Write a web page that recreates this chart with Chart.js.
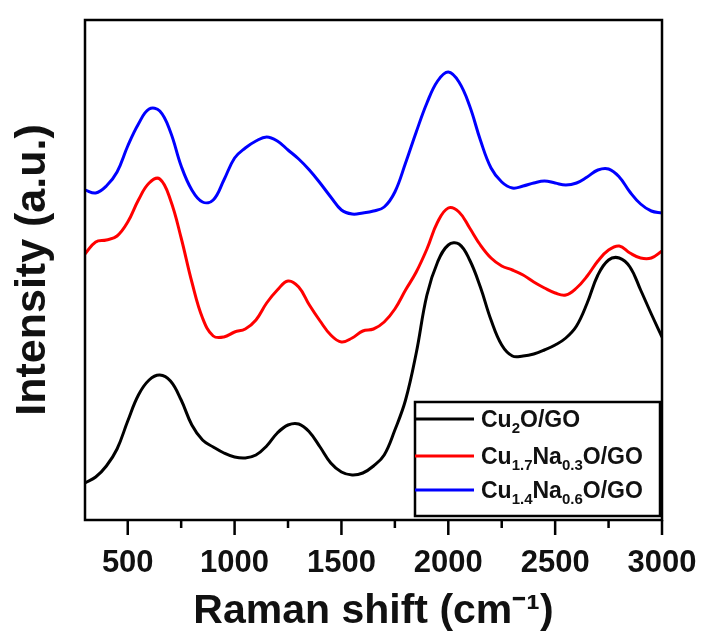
<!DOCTYPE html>
<html>
<head>
<meta charset="utf-8">
<script src="https://cdn.jsdelivr.net/npm/chart.js@4.4.1/dist/chart.umd.min.js"></script>
<style>
  html, body { margin: 0; padding: 0; background: #fff; }
  #wrap { width: 702px; height: 634px; }
</style>
</head>
<body>
<div id="wrap"><canvas id="raman"></canvas></div>
<script>
// Raman shift (cm-1), sampled every 50 from 300 to 3000
const ramanShift = [];
for (let s = 300; s <= 3000; s += 50) ramanShift.push(s);

const seriesNames = ['Cu_{2}O/GO', 'Cu_{1.7}Na_{0.3}O/GO', 'Cu_{1.4}Na_{0.6}O/GO'];
const seriesColors = ['#000000', '#ff0000', '#0000ff'];

const cu2o = [7.4, 8.6, 10.8, 14.2, 19.8, 25, 28, 29, 27.8, 24, 19, 16, 14.6, 13.4, 12.6, 12.4, 13, 14.8, 17.4, 19,
  19.2, 17.6, 14.6, 11.4, 9.6, 9, 9.4, 10.8, 13, 18, 24, 33.4, 45, 51.6, 55, 55.2, 52, 46.6, 40, 35,
  32.8, 32.8, 33.2, 34, 35, 36.4, 38.8, 43.4, 49, 52, 52.4, 50.6, 46, 41.2, 36.6];

const cuNa03 = [53.2, 55.6, 56, 56.8, 59.6, 64, 67.4, 68.2, 64, 56.4, 47.6, 40.4, 36.8, 36.6, 37.6, 38.2, 40, 43.4, 46, 47.8,
  46.6, 43, 39.8, 37, 35.6, 36.4, 37.8, 38.2, 39.6, 42.2, 46, 49.6, 54.2, 59.6, 62.4, 61.6, 58.4, 55, 52.4, 50.8,
  50, 49, 47.6, 46.4, 45.4, 45, 46.4, 48.8, 51.8, 54, 54.8, 53.4, 52.4, 52.4, 53.8];

const cuNa06 = [66, 65.4, 66.8, 69.6, 74.8, 79.2, 82.2, 81.8, 77.6, 70.8, 66, 63.6, 64, 68, 72.4, 74.4, 75.8, 76.6, 75.8, 74,
  72.2, 70, 67.4, 64.6, 62, 61.2, 61.4, 61.8, 62.6, 65.6, 71.4, 77.6, 83.4, 87.8, 89.6, 87.6, 82.8, 76, 70.4, 67.6,
  66.4, 66.8, 67.4, 67.8, 67.4, 67, 67.4, 68.6, 70, 70.2, 68.6, 65.6, 63.2, 61.8, 61.4];

const xMajorTicks = [500, 1000, 1500, 2000, 2500, 3000];
const xMinorTicks = [750, 1250, 1750, 2250, 2750];

const FONT = "'Liberation Sans', Arial, sans-serif";

function toPoints(ys) {
    return ys.map((y, i) => ({ x: ramanShift[i], y: y }));
}

// split "Cu_{2}O/GO" into normal / subscript parts
function parseLabel(str) {
    const parts = [];
    const re = /_\{([^}]*)\}/g;
    let last = 0, m;
    while ((m = re.exec(str)) !== null) {
        if (m.index > last) parts.push({ t: str.slice(last, m.index), sub: false });
        parts.push({ t: m[1], sub: true });
        last = re.lastIndex;
    }
    if (last < str.length) parts.push({ t: str.slice(last), sub: false });
    return parts;
}

// frame + tick marks
const framePlugin = {
    id: 'frame',
    afterDraw(chart) {
        const { ctx, chartArea: a } = chart;
        const xs = chart.scales.x;
        ctx.save();
        ctx.strokeStyle = '#000';
        ctx.lineWidth = 2.5;
        ctx.strokeRect(a.left, a.top, a.right - a.left, a.bottom - a.top);
        ctx.beginPath();
        xMajorTicks.forEach(v => {
            const px = xs.getPixelForValue(v);
            ctx.moveTo(px, a.bottom);
            ctx.lineTo(px, a.bottom + 15);
        });
        xMinorTicks.forEach(v => {
            const px = xs.getPixelForValue(v);
            ctx.moveTo(px, a.bottom);
            ctx.lineTo(px, a.bottom + 8);
        });
        ctx.stroke();
        ctx.restore();
    }
};

// legend with subscripts, box in lower right of plot
const subLegendPlugin = {
    id: 'subLegend',
    afterDraw(chart) {
        const { ctx, chartArea: a } = chart;
        const boxL = a.right - 247, boxR = a.right - 2;
        const boxT = a.bottom - 118, boxB = a.bottom - 4;
        const rowY = [boxT + 17, boxT + 54, boxT + 88];
        ctx.save();
        ctx.fillStyle = '#fff';
        ctx.fillRect(boxL, boxT, boxR - boxL, boxB - boxT);
        ctx.strokeStyle = '#000';
        ctx.lineWidth = 2.5;
        ctx.strokeRect(boxL, boxT, boxR - boxL, boxB - boxT);
        chart.data.datasets.forEach((ds, i) => {
            const y = rowY[i];
            ctx.strokeStyle = ds.borderColor;
            ctx.lineWidth = 3;
            ctx.beginPath();
            ctx.moveTo(boxL, y);
            ctx.lineTo(boxL + 59, y);
            ctx.stroke();
            let x = boxL + 66;
            ctx.fillStyle = '#111';
            ctx.textBaseline = 'alphabetic';
            parseLabel(ds.label).forEach(p => {
                if (p.sub) {
                    ctx.font = 'bold 15px ' + FONT;
                    ctx.fillText(p.t, x, y + 14);
                } else {
                    ctx.font = 'bold 23px ' + FONT;
                    ctx.fillText(p.t, x, y + 8);
                }
                x += ctx.measureText(p.t).width;
            });
        });
        ctx.restore();
    }
};

new Chart(document.getElementById('raman'), {
    type: 'line',
    data: {
        datasets: [
            { label: seriesNames[0], data: toPoints(cu2o), borderColor: seriesColors[0] },
            { label: seriesNames[1], data: toPoints(cuNa03), borderColor: seriesColors[1] },
            { label: seriesNames[2], data: toPoints(cuNa06), borderColor: seriesColors[2] }
        ]
    },
    options: {
        responsive: true,
        maintainAspectRatio: false,
        animation: false,
        layout: { padding: { top: 20, right: 40, left: 0, bottom: 0 } },
        elements: {
            line: { borderWidth: 3, tension: 0.4, fill: false },
            point: { radius: 0 }
        },
        plugins: {
            legend: { display: false },
            tooltip: { enabled: false }
        },
        scales: {
            x: {
                type: 'linear',
                min: 300,
                max: 3000,
                afterBuildTicks: s => { s.ticks = xMajorTicks.map(v => ({ value: v })); },
                afterFit: s => { s.height = 114; s.paddingLeft = 0; s.paddingRight = 0; },
                grid: { display: false, drawTicks: false },
                border: { display: false },
                ticks: {
                    color: '#111',
                    padding: 25,
                    maxRotation: 0,
                    autoSkip: false,
                    callback: v => String(v),
                    font: { family: FONT, size: 31, weight: 'bold' }
                },
                title: {
                    display: true,
                    text: 'Raman shift (cm⁻¹)',
                    color: '#111',
                    padding: { top: 0, bottom: 0 },
                    font: { family: FONT, size: 41, weight: 'bold', lineHeight: 1.1 }
                }
            },
            y: {
                min: 0,
                max: 100,
                afterFit: s => { s.width = 85; },
                grid: { display: false, drawTicks: false },
                border: { display: false },
                ticks: { display: false },
                title: {
                    display: true,
                    text: 'Intensity (a.u.)',
                    color: '#111',
                    padding: { top: 9, bottom: 0 },
                    font: { family: FONT, size: 43, weight: 'bold', lineHeight: 1.1 }
                }
            }
        }
    },
    plugins: [framePlugin, subLegendPlugin]
});
</script>
</body>
</html>
